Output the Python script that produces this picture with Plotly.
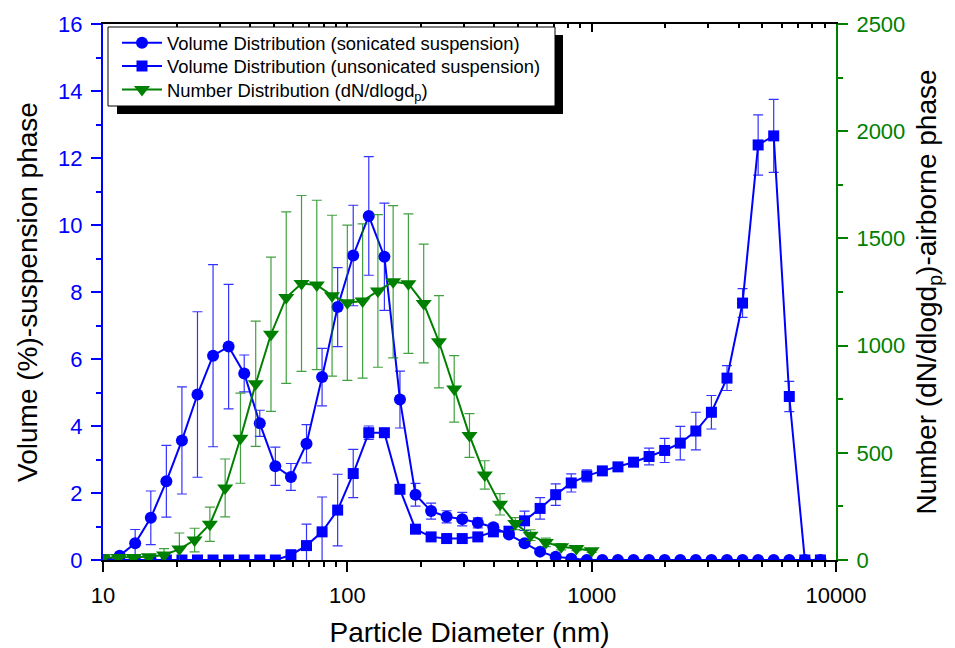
import plotly.graph_objects as go

# Zetasizer size bins (nm)
size_ds = [10.10, 11.70, 13.54, 15.69, 18.17, 21.04, 24.36, 28.21, 32.67, 37.84, 43.82, 50.75,
           58.77, 68.06, 78.82, 91.28, 105.7, 122.4, 141.8, 164.2, 190.1, 220.2, 255.0, 295.3,
           342.0, 396.1, 458.7, 531.2, 615.1, 712.4, 825.0, 955.4, 1106, 1281, 1484, 1718,
           1990, 2305, 2669, 3091, 3580, 4145, 4801, 5560, 6439, 7456, 8635]

vol_sonicated = [0, 0.13, 0.5, 1.26, 2.35, 3.57, 4.94, 6.1, 6.37, 5.57, 4.08, 2.8,
                 2.48, 3.47, 5.46, 7.55, 9.09, 10.27, 9.05, 4.79, 1.95, 1.46, 1.29, 1.22,
                 1.11, 0.98, 0.76, 0.5, 0.25, 0.1, 0.04, 0, 0, 0, 0, 0,
                 0, 0, 0, 0, 0, 0, 0, 0, 0, 0, 0]
err_sonicated = [0, 0.05, 0.41, 0.8, 1.07, 1.6, 2.47, 2.72, 1.86, 0.55, 0.39, 0.57,
                 0.4, 0.57, 0.86, 1.18, 1.5, 1.77, 1.6, 0.85, 0.34, 0.24, 0.18, 0.2,
                 0.15, 0.1, 0.08, 0.05, 0.03, 0, 0, 0, 0, 0, 0, 0,
                 0, 0, 0, 0, 0, 0, 0, 0, 0, 0, 0]

vol_unsonicated = [0, 0, 0, 0, 0, 0, 0, 0, 0, 0, 0, 0,
                   0.15, 0.43, 0.84, 1.49, 2.58, 3.8, 3.8, 2.11, 0.92, 0.69, 0.64, 0.64,
                   0.69, 0.84, 0.86, 1.17, 1.54, 1.95, 2.3, 2.51, 2.66, 2.78, 2.92, 3.09,
                   3.27, 3.49, 3.85, 4.41, 5.43, 7.67, 12.39, 12.66, 4.88, 0, 0]
err_unsonicated = [0, 0, 0, 0, 0, 0, 0, 0, 0, 0, 0, 0,
                   0.15, 0.64, 1.04, 1.07, 0.72, 0.2, 0.05, 0.05, 0.05, 0.05, 0.05, 0.05,
                   0.05, 0.05, 0.1, 0.29, 0.32, 0.32, 0.27, 0.18, 0.05, 0.05, 0.08, 0.25,
                   0.36, 0.5, 0.56, 0.5, 0.37, 0.43, 0.9, 1.09, 0.45, 0, 0]

# SMPS size bins (nm)
size_smps = [10.0, 11.55, 13.34, 15.40, 17.78, 20.54, 23.71, 27.38, 31.62, 36.52, 42.17,
             48.70, 56.23, 64.94, 74.99, 86.60, 100.0, 115.5, 133.4, 154.0, 177.8, 205.4,
             237.1, 273.8, 316.2, 365.2, 421.7, 487.0, 562.3, 649.4, 749.9, 866.0, 1000]
number_dist = [10, 12, 12, 15, 23, 51, 93, 167, 336, 568, 822,
               1053, 1224, 1290, 1283, 1233, 1200, 1208, 1255, 1298, 1289, 1196,
               1018, 798, 581, 397, 260, 170, 116, 82, 62, 54, 43]
err_number = [5, 5, 5, 10, 30, 75, 55, 80, 135, 210, 292,
              360, 400, 410, 395, 375, 362, 360, 356, 355, 325, 277,
              215, 155, 102, 66, 50, 28, 25, 20, 15, 10, 8]

x_tickvals = [10, 100, 1000, 10000]
x_ticktext = ["10", "100", "1000", "10000"]
x_minor = [m * d for d in (10, 100, 1000) for m in range(2, 10)]

BLUE = "#0000FF"
GREEN = "#008000"
FONT = "Liberation Sans, Arial, sans-serif"

l, r, t, b = 103, 119, 24, 88
W, H = 955, 648
pw, ph = W - l - r, H - t - b

def px(xp):
    return (xp - l) / pw

def py(yp):
    return 1 - (yp - t) / ph

fig = go.Figure()

fig.add_trace(go.Scatter(
    x=size_ds, y=vol_unsonicated, mode="lines+markers",
    name="Volume Distribution (unsonicated suspension)", legend="legend2",
    line=dict(color=BLUE, width=2),
    marker=dict(symbol="square", size=11, color=BLUE),
    error_y=dict(type="data", array=err_unsonicated, color="rgba(0,0,255,0.8)", thickness=1.2, width=5),
))
fig.add_trace(go.Scatter(
    x=size_ds, y=vol_sonicated, mode="lines+markers",
    name="Volume Distribution (sonicated suspension)", legend="legend",
    line=dict(color=BLUE, width=2),
    marker=dict(symbol="circle", size=12, color=BLUE),
    error_y=dict(type="data", array=err_sonicated, color="rgba(0,0,255,0.8)", thickness=1.2, width=5),
))
fig.add_trace(go.Scatter(
    x=size_smps, y=number_dist, mode="lines+markers", yaxis="y2",
    name="Number Distribution (dN/dlogd<sub>p</sub>)", legend="legend3",
    line=dict(color=GREEN, width=2),
    marker=dict(symbol="triangle-down", size=14, color=GREEN),
    error_y=dict(type="data", array=err_number, color="rgba(0,128,0,0.75)", thickness=1.2, width=5),
))
# dummy trace to render the top axis
fig.add_trace(go.Scatter(x=[10], y=[0], xaxis="x2", mode="markers",
                         marker=dict(opacity=0), showlegend=False, hoverinfo="skip"))

def leg(yc):
    return dict(x=px(117), y=py(yc), xanchor="left", yanchor="middle",
                bgcolor="rgba(0,0,0,0)", borderwidth=0,
                font=dict(size=18.4, family=FONT, color="black"), itemwidth=40)

fig.update_layout(
    width=W, height=H,
    margin=dict(l=l, r=r, t=t, b=b, autoexpand=False),
    paper_bgcolor="white", plot_bgcolor="white",
    font=dict(family=FONT, size=22, color="black"),
    showlegend=True,
    legend=leg(42.7), legend2=leg(66), legend3=leg(89.5),
    xaxis=dict(
        type="log", range=[1, 4], automargin=False,
        tickvals=x_tickvals, ticktext=x_ticktext,
        ticks="outside", ticklen=10, tickwidth=2, tickcolor="black",
        minor=dict(tickvals=x_minor, ticks="outside", ticklen=5, tickwidth=1.5, tickcolor="black"),
        showline=True, linecolor="black", linewidth=2,
        showgrid=False, zeroline=False,
        tickfont=dict(size=22, color="black"),
        ticklabelstandoff=5,
        title=dict(text="Particle Diameter (nm)", font=dict(size=28, color="black"), standoff=17),
    ),
    xaxis2=dict(
        type="log", range=[1, 4], overlaying="x", side="top", automargin=False,
        tickvals=x_tickvals, ticks="inside", ticklen=8, tickwidth=1.5, tickcolor="black",
        minor=dict(tickvals=x_minor, ticks="inside", ticklen=4, tickwidth=1.5, tickcolor="black"),
        showticklabels=False, showline=True, linecolor="black", linewidth=2,
        showgrid=False, zeroline=False,
    ),
    yaxis=dict(
        range=[0, 16], dtick=2, tick0=0, automargin=False,
        ticks="outside", ticklen=10, tickwidth=2, tickcolor=BLUE,
        minor=dict(dtick=1, ticks="outside", ticklen=5, tickwidth=1.5, tickcolor=BLUE),
        showline=True, linecolor=BLUE, linewidth=2,
        showgrid=False, zeroline=False,
        tickfont=dict(size=22, color=BLUE),
        ticklabelstandoff=4,
        title=dict(text="Volume (%)-suspension phase", font=dict(size=28, color="black"), standoff=12),
    ),
    yaxis2=dict(
        range=[0, 2500], dtick=500, tick0=0, overlaying="y", side="right", automargin=False,
        ticks="outside", ticklen=10, tickwidth=2, tickcolor=GREEN,
        minor=dict(dtick=250, ticks="outside", ticklen=5, tickwidth=1.5, tickcolor=GREEN),
        showline=True, linecolor=GREEN, linewidth=2,
        showgrid=False, zeroline=False,
        tickfont=dict(size=22, color=GREEN),
        ticklabelstandoff=4,
        title=dict(text="Number (dN/dlogd<sub>p</sub>)-airborne phase",
                   font=dict(size=28, color="black"), standoff=12),
    ),
    shapes=[
        dict(type="rect", xref="paper", yref="paper",
             x0=px(117), x1=px(563), y0=py(114), y1=py(35),
             fillcolor="black", line=dict(width=0), layer="above"),
        dict(type="rect", xref="paper", yref="paper",
             x0=px(108), x1=px(555), y0=py(106), y1=py(27),
             fillcolor="white", line=dict(color="black", width=1), layer="above"),
    ],
)

fig.write_html("out.html")
